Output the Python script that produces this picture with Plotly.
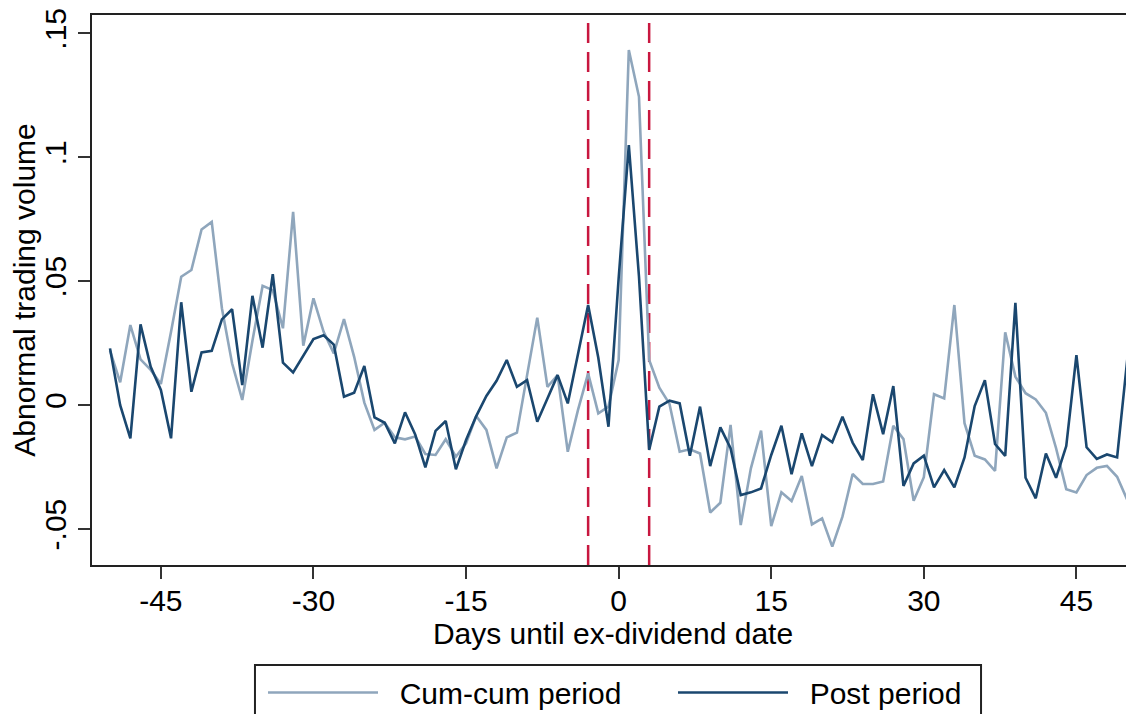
import plotly.graph_objects as go

days = list(range(-50, 51))

cum_cum = [
    0.0220, 0.0092, 0.0323, 0.0185, 0.0142, 0.0085, 0.0296, 0.0518, 0.0545, 0.0709,   # -50..-41
    0.0739, 0.0391, 0.0169, 0.0021, 0.0260, 0.0481, 0.0464, 0.0310, 0.0780, 0.0240,   # -40..-31
    0.0431, 0.0296, 0.0209, 0.0347, 0.0195, 0.0010, -0.0100, -0.0071, -0.0130, -0.0138,  # -30..-21
    -0.0127, -0.0197, -0.0201, -0.0138, -0.0208, -0.0154, -0.0044, -0.0100, -0.0255, -0.0130,  # -20..-11
    -0.0111, 0.0121, 0.0353, 0.0074, 0.0121, -0.0188, -0.0020, 0.0128, -0.0033, -0.0006,  # -10..-1
    0.0182,  # 0
    0.1433, 0.1244, 0.0182, 0.0070, 0.0005, -0.0188, -0.0178, -0.0195, -0.0433, -0.0394,  # 1..10
    -0.0080, -0.0484, -0.0255, -0.0103, -0.0488, -0.0352, -0.0387, -0.0286, -0.0481, -0.0457,  # 11..20
    -0.0571, -0.0450, -0.0278, -0.0318, -0.0318, -0.0308, -0.0083, -0.0137, -0.0386, -0.0291,  # 21..30
    0.0044, 0.0027, 0.0404, -0.0073, -0.0204, -0.0219, -0.0265, 0.0294, 0.0115, 0.0048,  # 31..40
    0.0023, -0.0031, -0.0174, -0.0339, -0.0352, -0.0282, -0.0253, -0.0245, -0.0289, -0.0383,  # 41..50
]

post = [
    0.0229, 0.0000, -0.0134, 0.0326, 0.0155, 0.0061, -0.0134, 0.0415, 0.0054, 0.0213,  # -50..-41
    0.0219, 0.0346, 0.0387, 0.0081, 0.0441, 0.0232, 0.0528, 0.0171, 0.0132, 0.0202,  # -40..-31
    0.0267, 0.0282, 0.0244, 0.0034, 0.0050, 0.0158, -0.0049, -0.0071, -0.0154, -0.0029,  # -30..-21
    -0.0118, -0.0251, -0.0104, -0.0064, -0.0259, -0.0141, -0.0044, 0.0037, 0.0098, 0.0182,  # -20..-11
    0.0074, 0.0101, -0.0067, 0.0027, 0.0121, 0.0007, 0.0202, 0.0404, 0.0191, -0.0087,  # -10..-1
    0.0512,  # 0
    0.1049, 0.0518, -0.0181, -0.0006, 0.0018, 0.0007, -0.0204, -0.0006, -0.0246, -0.0090,  # 1..10
    -0.0174, -0.0363, -0.0352, -0.0336, -0.0201, -0.0083, -0.0279, -0.0114, -0.0246, -0.0121,  # 11..20
    -0.0150, -0.0047, -0.0151, -0.0222, 0.0044, -0.0117, 0.0077, -0.0326, -0.0235, -0.0204,  # 21..30
    -0.0332, -0.0262, -0.0332, -0.0211, -0.0004, 0.0101, -0.0157, -0.0205, 0.0413, -0.0293,  # 31..40
    -0.0376, -0.0195, -0.0293, -0.0165, 0.0202, -0.0170, -0.0217, -0.0199, -0.0211, 0.0185,  # 41..50
]

x_ticks = [-45, -30, -15, 0, 15, 30, 45]
x_tick_labels = ["-45", "-30", "-15", "0", "15", "30", "45"]
y_ticks = [-0.05, 0, 0.05, 0.1, 0.15]
y_tick_labels = ["-.05", "0", ".05", ".1", ".15"]
event_window = [-3, 3]

FONT = "Arial, 'Liberation Sans', sans-serif"
FS = 30
LIGHT = "#8fa6bc"
DARK = "#1a476f"
RED = "#c8173f"
FRAME = "#222222"
NB = "\u00a0\u00a0"

fig = go.Figure()
fig.add_trace(go.Scatter(x=days, y=cum_cum, mode="lines", name=NB + "Cum-cum period",
                         line=dict(color=LIGHT, width=2.6)))
fig.add_trace(go.Scatter(x=days, y=post, mode="lines", name=NB + "Post period",
                         line=dict(color=DARK, width=2.6)))

for xv in event_window:
    fig.add_shape(type="line", xref="x", yref="paper", x0=xv, x1=xv, y0=0, y1=1,
                  line=dict(color=RED, width=2.5, dash="20px,9px"), layer="below")

# legend frame (bottom runs past the picture edge, as in the original)
fig.add_shape(type="rect", xref="paper", yref="paper",
              x0=0.1564, x1=0.8532, y0=-0.1818, y1=-0.40,
              line=dict(color=FRAME, width=2), fillcolor="rgba(0,0,0,0)", layer="above")

fig.update_layout(
    width=1126, height=706,
    margin=dict(l=84, r=0, t=7, b=149, autoexpand=False),
    paper_bgcolor="white", plot_bgcolor="white",
    font=dict(family=FONT, size=FS, color="black"),
    showlegend=True,
    legend=dict(
        orientation="h", xref="paper", yref="paper",
        x=0.1641, y=-0.1845, xanchor="left", yanchor="top",
        borderwidth=0, bgcolor="rgba(0,0,0,0)",
        font=dict(family=FONT, size=FS, color="black"),
        itemwidth=110, entrywidth=285, entrywidthmode="pixels",
    ),
    xaxis=dict(
        range=[-51.77, 50.66], tickmode="array", tickvals=x_ticks, ticktext=x_tick_labels,
        ticks="outside", ticklen=12, tickwidth=1.5, tickcolor="#333333",
        showline=True, linecolor=FRAME, linewidth=2, mirror=True,
        showgrid=False, zeroline=False, ticklabelstandoff=-4,
        ticklabeloverflow="allow",
        tickfont=dict(size=FS),
        title=dict(text="Days until ex-dividend date", font=dict(size=FS), standoff=6),
    ),
    yaxis=dict(
        range=[-0.0645, 0.1574], tickmode="array", tickvals=y_ticks, ticktext=y_tick_labels,
        ticks="outside", ticklen=12, tickwidth=1.5, tickcolor="#333333",
        showline=True, linecolor=FRAME, linewidth=2, mirror=False,
        showgrid=False, zeroline=False, tickangle=-90,
        ticklabeloverflow="allow",
        tickfont=dict(size=FS),
        title=dict(text="Abnormal trading volume", font=dict(size=FS), standoff=0),
    ),
)

fig.write_html("out.html")
